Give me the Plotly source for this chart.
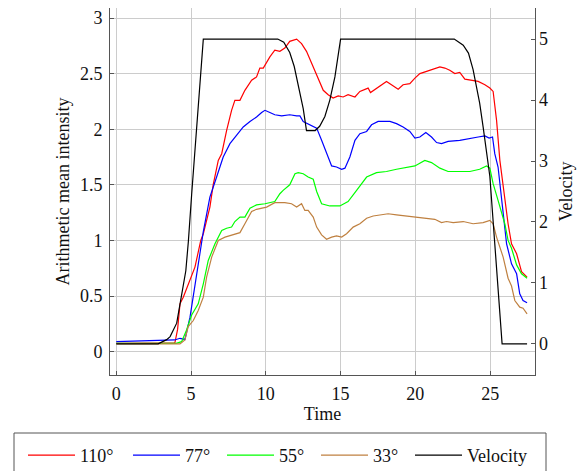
import plotly.graph_objects as go

# ---------------- data ----------------
t_110 = [0, 2.0, 3.5, 3.92, 4.1, 4.26, 4.48, 4.93, 5.26, 5.65, 5.82, 6.26, 6.48, 6.82, 7.05, 7.38, 7.71,
         7.93, 8.27, 8.6, 9.05, 9.38, 9.6, 9.83, 10.27, 10.6, 10.94, 11.27, 11.6, 12.06, 12.39, 12.72,
         13.17, 13.5, 13.84, 14.17, 14.5, 14.84, 15.17, 15.5, 15.96, 16.29, 16.62, 16.84, 17.0, 17.4,
         17.74, 18.07, 18.4, 18.85, 19.18, 19.63, 19.97, 20.3, 20.75, 21.19, 21.64, 21.97, 22.3, 22.64,
         22.97, 23.31, 23.76, 24.2, 24.65, 24.98, 25.2, 25.43, 25.65, 25.98, 26.2, 26.43, 26.77, 27.1, 27.47]
i_110 = [0.075, 0.075, 0.075, 0.08, 0.2, 0.43, 0.49, 0.64, 0.76, 1.0, 1.06, 1.3, 1.5, 1.72, 1.78, 1.99, 2.17,
         2.26, 2.26, 2.35, 2.44, 2.47, 2.55, 2.55, 2.65, 2.71, 2.70, 2.73, 2.79, 2.81, 2.77, 2.70,
         2.56, 2.47, 2.35, 2.31, 2.28, 2.30, 2.29, 2.31, 2.29, 2.34, 2.36, 2.37, 2.33, 2.37,
         2.40, 2.43, 2.40, 2.36, 2.40, 2.41, 2.46, 2.50, 2.52, 2.54, 2.56, 2.55, 2.53, 2.50,
         2.51, 2.45, 2.44, 2.43, 2.40, 2.37, 2.34, 2.08, 1.72, 1.36, 1.15, 0.97, 0.88, 0.72, 0.67]

t_77 = [0, 2.0, 3.9, 4.26, 4.59, 4.93, 5.15, 5.37, 5.59, 5.82, 6.04, 6.26, 6.71, 7.15, 7.6, 8.05, 8.49,
        8.94, 9.38, 9.72, 9.94, 10.27, 10.6, 11.06, 11.6, 12.06, 12.28, 12.5, 12.95, 13.4, 13.73, 14.06,
        14.4, 14.73, 15.07, 15.29, 15.62, 15.96, 16.29, 16.74, 17.07, 17.51, 17.96, 18.3, 18.74, 19.18,
        19.63, 19.97, 20.3, 20.7, 21.08, 21.42, 21.75, 22.19, 22.97, 23.64, 24.2, 24.65, 24.93, 25.16,
        25.31, 25.53, 25.76, 25.87, 26.1, 26.43, 26.77, 26.98, 27.2, 27.47]
i_77 = [0.09, 0.10, 0.105, 0.12, 0.11, 0.31, 0.49, 0.68, 0.88, 1.08, 1.25, 1.39, 1.57, 1.75, 1.87, 1.95, 2.02,
        2.07, 2.11, 2.15, 2.17, 2.15, 2.13, 2.12, 2.13, 2.12, 2.12, 2.07, 2.04, 2.01, 1.90, 1.78,
        1.67, 1.66, 1.64, 1.65, 1.75, 1.90, 1.96, 1.98, 2.04, 2.07, 2.07, 2.07, 2.05, 2.02,
        1.98, 1.92, 1.93, 1.97, 1.93, 1.88, 1.87, 1.89, 1.90, 1.92, 1.93, 1.94, 1.92, 1.93,
        1.78, 1.66, 1.36, 1.24, 0.97, 0.79, 0.70, 0.52, 0.46, 0.44]

t_55 = [0, 2.0, 4.0, 4.37, 4.7, 5.04, 5.48, 5.82, 6.15, 6.6, 7.05, 7.38, 7.71, 7.93, 8.27, 8.6, 8.94,
        9.38, 9.94, 10.6, 10.94, 11.16, 11.6, 11.95, 12.17, 12.5, 12.83, 13.17, 13.4, 13.73, 14.28,
        14.95, 15.5, 16.07, 16.74, 17.4, 18.07, 18.74, 19.41, 19.97, 20.63, 21.08, 21.64, 22.19,
        22.97, 23.64, 24.3, 24.76, 24.98, 25.2, 25.53, 25.98, 26.2, 26.43, 26.77, 27.1, 27.47]
i_55 = [0.075, 0.075, 0.075, 0.09, 0.195, 0.33, 0.43, 0.61, 0.82, 0.97, 1.09, 1.11, 1.12, 1.17, 1.21, 1.21, 1.29,
        1.32, 1.33, 1.35, 1.42, 1.45, 1.50, 1.60, 1.61, 1.60, 1.57, 1.55, 1.44, 1.33, 1.31,
        1.31, 1.35, 1.45, 1.57, 1.61, 1.62, 1.64, 1.66, 1.67, 1.72, 1.70, 1.65, 1.62,
        1.62, 1.62, 1.64, 1.67, 1.65, 1.51, 1.36, 1.15, 1.0, 0.93, 0.78, 0.70, 0.66]

t_33 = [0, 2.0, 4.26, 4.59, 4.81, 5.15, 5.48, 5.82, 6.04, 6.38, 6.82, 7.27, 7.71, 8.27, 8.6, 9.05, 9.38,
        10.05, 10.6, 11.27, 11.72, 12.06, 12.39, 12.61, 12.83, 13.17, 13.4, 13.73, 14.06, 14.4, 14.73,
        15.07, 15.4, 15.84, 16.29, 16.74, 17.18, 17.74, 18.18, 18.74, 19.41, 20.08, 20.75, 21.3, 21.75,
        22.08, 22.53, 23.2, 23.86, 24.53, 24.98, 25.2, 25.43, 25.65, 25.87, 26.2, 26.43, 26.65, 26.98,
        27.2, 27.47]
i_33 = [0.07, 0.07, 0.07, 0.105, 0.225, 0.28, 0.37, 0.49, 0.67, 0.85, 1.0, 1.03, 1.05, 1.07, 1.15, 1.26, 1.28,
        1.30, 1.34, 1.34, 1.33, 1.30, 1.33, 1.27, 1.27, 1.21, 1.12, 1.05, 1.01, 1.03, 1.04,
        1.03, 1.06, 1.12, 1.15, 1.20, 1.22, 1.23, 1.24, 1.23, 1.22, 1.21, 1.20, 1.19, 1.16,
        1.17, 1.16, 1.17, 1.15, 1.16, 1.18, 1.15, 1.03, 0.94, 0.85, 0.66, 0.59, 0.46, 0.40,
        0.39, 0.34]

t_vel = [0, 2.8, 3.37, 3.6, 4.04, 4.26, 4.48, 4.65, 4.82, 5.04, 5.82, 10.8, 11.2, 11.6, 11.9, 12.2,
         12.5, 12.72, 13.3, 13.6, 13.95, 14.28, 14.62, 15.0, 22.6, 23.2, 23.55, 23.86, 24.1, 24.3,
         24.53, 24.76, 24.98, 25.8, 27.47]
vel = [0, 0, 0.07, 0.12, 0.34, 0.65, 0.92, 1.2, 1.68, 2.45, 5.0, 5.0, 4.95, 4.78, 4.55, 4.22,
       3.86, 3.5, 3.5, 3.57, 3.73, 4.0, 4.38, 5.0, 5.0, 4.9, 4.77, 4.5, 4.22, 3.95,
       3.56, 3.13, 2.75, 0, 0]

x_ticks = [0, 5, 10, 15, 20, 25]
y_ticks = [0, 0.5, 1, 1.5, 2, 2.5, 3]
y_ticktext = ["0", "0.5", "1", "1.5", "2", "2.5", "3"]
v_ticks = [0, 1, 2, 3, 4, 5]

series = [
    ("110°", t_110, i_110, "#ff0000", "legend", 43),
    ("77°", t_77, i_77, "#0000ff", "legend", 32),
    ("55°", t_55, i_55, "#00ff00", "legend", 32),
    ("33°", t_33, i_33, "#bf8040", "legend2", 32),
]

FONT = "Liberation Serif"
FS = 18
W, H = 579, 463           # page adds an 8px body margin
ML, MR, MT, MB = 102, 52, 0, 96
PW, PH = W - ML - MR, H - MT - MB

fig = go.Figure()
for name, t, v, c, lg, lw in series:
    fig.add_trace(go.Scatter(x=t, y=v, mode="lines", name=name, legend=lg, legendwidth=lw,
                             line=dict(color=c, width=1.2)))
fig.add_trace(go.Scatter(x=t_vel, y=vel, mode="lines", name="Velocity", yaxis="y2",
                         legend="legend2", legendwidth=70,
                         line=dict(color="#000000", width=1.2)))

tickfont = dict(family=FONT, size=FS, color="#111")

leg_common = dict(orientation="h", xref="container", yref="container", xanchor="left",
                  yanchor="top", y=1 - 429 / H, borderwidth=0, bgcolor="rgba(0,0,0,0)",
                  font=dict(family=FONT, size=FS, color="#111"), itemwidth=47)

def px2paper_x(fx):
    return (fx - ML) / PW

def px2paper_y(fy):
    return 1 - (fy - MT) / PH

fig.update_layout(
    width=W, height=H,
    margin=dict(l=ML, r=MR, t=MT, b=MB, autoexpand=False),
    paper_bgcolor="white", plot_bgcolor="white",
    font=dict(family=FONT, size=FS, color="#111"),
    xaxis=dict(range=[-0.42, 28.0], tickvals=x_ticks, tickfont=tickfont,
               ticks="inside", ticklen=4, tickcolor="#555",
               showgrid=True, gridcolor="#cccccc", gridwidth=1,
               showline=True, linecolor="#555", linewidth=1, mirror=True,
               zeroline=False, ticklabelstandoff=2,
               title=dict(text="Time", standoff=3, font=dict(family=FONT, size=FS))),
    yaxis=dict(range=[-0.21, 3.09], tickvals=y_ticks, ticktext=y_ticktext, tickfont=tickfont,
               ticks="inside", ticklen=4, tickcolor="#555",
               showgrid=True, gridcolor="#cccccc", gridwidth=1,
               showline=True, linecolor="#555", linewidth=1, mirror=True,
               zeroline=False, ticklabelstandoff=3,
               title=dict(text="Arithmetic mean intensity", standoff=5,
                          font=dict(family=FONT, size=FS))),
    yaxis2=dict(range=[-0.51, 5.51], tickvals=v_ticks, tickfont=tickfont,
                overlaying="y", side="right",
                ticks="inside", ticklen=4, tickcolor="#555",
                showgrid=False, showline=False, zeroline=False,
                ticklabelstandoff=3,
                title=dict(text="Velocity", standoff=12, font=dict(family=FONT, size=FS))),
    legend=dict(x=15 / W, **leg_common),
    legend2=dict(x=308 / W, **leg_common),
    shapes=[dict(type="rect", xref="paper", yref="paper",
                 x0=px2paper_x(6), x1=px2paper_x(538),
                 y0=px2paper_y(480), y1=px2paper_y(425),
                 line=dict(color="#555", width=1), fillcolor="rgba(0,0,0,0)")],
    showlegend=True,
)

fig.write_html("out.html")
